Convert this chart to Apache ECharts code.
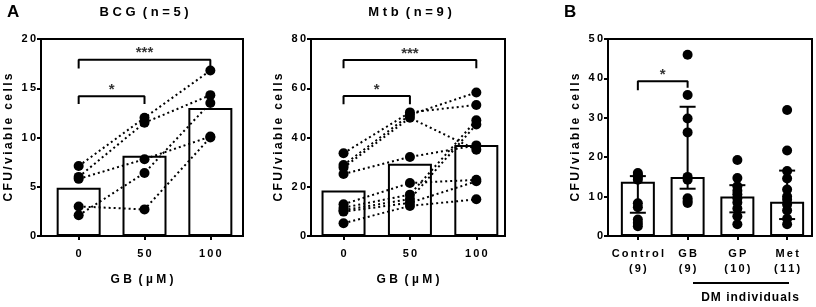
<!DOCTYPE html>
<html>
<head>
<meta charset="utf-8">
<script src="https://cdn.jsdelivr.net/npm/echarts@6/dist/echarts.min.js"></script>
<style>
  html, body { margin: 0; padding: 0; background: #fff; }
  #chart { width: 816px; height: 307px; }
</style>
</head>
<body>
<div id="chart"></div>
<script>
// dose groups for panel A
var doses = [0, 50, 100];

// BCG (n=5)
var bcgMeans = [4.9, 8.15, 13.0];
var bcgSubjects = [
  [7.1, 12.0, 16.8],
  [6.0, 11.5, 14.3],
  [5.8, 7.8, 10.1],
  [2.1, 6.4, 13.5],
  [3.0, 2.7, 10.0]
];

// Mtb (n=9)
var mtbMeans = [18.5, 29.3, 37.0];
var mtbSubjects = [
  [33.6, 50.2, 53.2],
  [28.8, 49.2, 58.3],
  [27.8, 48.0, 35.0],
  [25.2, 32.1, 36.8],
  [12.9, 21.5, 22.8],
  [11.5, 16.8, 47.0],
  [10.5, 15.0, 45.3],
  [9.9, 13.5, 22.2],
  [5.2, 12.2, 14.9]
];

// panel B groups
var groupNames = ['Control', 'GB', 'GP', 'Met'];
var groupN = [9, 9, 10, 11];
var groupMedians = [13.8, 15.0, 10.0, 8.7];
var groupLow = [5.9, 12.0, 6.0, 4.3];
var groupHigh = [15.2, 32.8, 12.9, 16.6];
var groupPoints = [
  [16.0, 15.5, 15.0, 14.3, 8.3, 7.3, 4.2, 3.3, 2.5],
  [46.0, 35.8, 29.8, 26.3, 15.0, 14.3, 9.6, 8.9, 8.4],
  [19.3, 14.7, 12.6, 11.5, 10.6, 9.6, 8.5, 7.0, 5.0, 3.0],
  [32.0, 21.7, 16.5, 14.6, 11.8, 10.0, 9.2, 8.0, 6.5, 4.4, 3.0]
];

var FONT = 'Liberation Sans, Arial, sans-serif';
function sp(s) { return String(s).split('').join('\u2009'); }
function hair(s) { return String(s).split('').join('\u200a'); }

var chart = echarts.init(document.getElementById('chart'));

function yAxisCfg(grid, max, interval) {
  return {
    type: 'value', gridIndex: grid, min: 0, max: max, interval: interval,
    name: sp('CFU/viable cells'), nameLocation: 'middle', nameGap: 26,
    nameTextStyle: { color: '#000', fontWeight: 'bold', fontSize: 12, fontFamily: FONT },
    axisLine: { show: true, onZero: false, lineStyle: { color: '#000', width: 2 } },
    axisTick: { show: true, length: 4, lineStyle: { color: '#000', width: 2 } },
    axisLabel: { color: '#000', fontWeight: 'bold', fontSize: 11, fontFamily: FONT, margin: 5,
      formatter: function (v) { return sp(v); } },
    splitLine: { show: false }
  };
}

function doseAxisCfg(grid, min, max) {
  return {
    type: 'value', gridIndex: grid, min: min, max: max,
    name: 'G B  ( \u00b5 M )', nameLocation: 'middle', nameGap: 38,
    nameTextStyle: { color: '#000', fontWeight: 'bold', fontSize: 12, fontFamily: FONT },
    axisLine: { show: true, onZero: false, lineStyle: { color: '#000', width: 2 } },
    axisTick: { show: true, length: 4, customValues: doses, lineStyle: { color: '#000', width: 2 } },
    axisLabel: { color: '#000', fontWeight: 'bold', fontSize: 11, fontFamily: FONT, margin: 12,
      customValues: doses, formatter: function (v) { return sp(v); } },
    splitLine: { show: false }
  };
}

function panelASeries(axis, means, subjects, brackets) {
  var out = [];
  out.push({
    type: 'bar', xAxisIndex: axis, yAxisIndex: axis, barWidth: 44, z: 1,
    data: doses.map(function (d, i) { return [d, means[i]]; }),
    itemStyle: { color: '#fff', borderColor: '#000', borderWidth: 2 },
    silent: true
  });
  subjects.forEach(function (s) {
    out.push({
      type: 'line', xAxisIndex: axis, yAxisIndex: axis, symbol: 'none', z: 2,
      data: doses.map(function (d, i) { return [d, s[i]]; }),
      lineStyle: { color: '#000', width: 2, type: [2, 3] }
    });
  });
  var pts = [];
  subjects.forEach(function (s) { doses.forEach(function (d, i) { pts.push([d, s[i]]); }); });
  out.push({
    type: 'scatter', xAxisIndex: axis, yAxisIndex: axis, symbolSize: 10, z: 3,
    data: pts, itemStyle: { color: '#000', opacity: 1 }
  });
  brackets.forEach(function (b) {
    out.push({
      type: 'line', xAxisIndex: axis, yAxisIndex: axis, symbol: 'none', z: 4,
      data: [[b.x0, b.leg], [b.x0, b.top], [b.x1, b.top], [b.x1, b.leg]],
      lineStyle: { color: '#000', width: 2 }
    });
    out.push({
      type: 'scatter', xAxisIndex: axis, yAxisIndex: axis, symbolSize: 0, z: 4,
      data: [[(b.x0 + b.x1) / 2, b.top]],
      label: { show: true, position: 'top', distance: -1, formatter: b.text, color: '#000',
        fontSize: 15, fontWeight: 'bold', fontFamily: FONT }
    });
  });
  return out;
}

var series = [];
series = series.concat(panelASeries(0, bcgMeans, bcgSubjects, [
  { x0: 0, x1: 100, top: 17.9, leg: 17.0, text: '***' },
  { x0: 0, x1: 50, top: 14.2, leg: 13.4, text: '*' }
]));
series = series.concat(panelASeries(1, mtbMeans, mtbSubjects, [
  { x0: 0, x1: 100, top: 71.5, leg: 68.1, text: '***' },
  { x0: 0, x1: 50, top: 56.9, leg: 53.5, text: '*' }
]));

// panel B
series.push({
  type: 'bar', xAxisIndex: 2, yAxisIndex: 2, barWidth: 34, z: 1,
  data: groupMedians.map(function (v, i) { return [i, v]; }),
  itemStyle: { color: '#fff', borderColor: '#000', borderWidth: 2 },
  silent: true
});
var bPts = [];
groupPoints.forEach(function (g, i) { g.forEach(function (v) { bPts.push([i, v]); }); });
series.push({
  type: 'scatter', xAxisIndex: 2, yAxisIndex: 2, symbolSize: 10, z: 3,
  data: bPts, itemStyle: { color: '#000', opacity: 1 }
});
series.push({
  type: 'custom', xAxisIndex: 2, yAxisIndex: 2, z: 4,
  data: groupLow.map(function (v, i) { return [i, v, groupHigh[i]]; }),
  renderItem: function (params, api) {
    var lo = api.coord([api.value(0), api.value(1)]);
    var hi = api.coord([api.value(0), api.value(2)]);
    var w = 8;
    var st = { stroke: '#000', lineWidth: 2 };
    return { type: 'group', children: [
      { type: 'line', shape: { x1: lo[0], y1: lo[1], x2: hi[0], y2: hi[1] }, style: st },
      { type: 'line', shape: { x1: lo[0] - w, y1: lo[1], x2: lo[0] + w, y2: lo[1] }, style: st },
      { type: 'line', shape: { x1: hi[0] - w, y1: hi[1], x2: hi[0] + w, y2: hi[1] }, style: st }
    ] };
  }
});
series.push({
  type: 'line', xAxisIndex: 2, yAxisIndex: 2, symbol: 'none', z: 4,
  data: [[0, 37.0], [0, 39.3], [1, 39.3], [1, 37.6]],
  lineStyle: { color: '#000', width: 2 }
});
series.push({
  type: 'scatter', xAxisIndex: 2, yAxisIndex: 2, symbolSize: 0, z: 4,
  data: [[0.5, 39.3]],
  label: { show: true, position: 'top', distance: -1, formatter: '*', color: '#000',
    fontSize: 15, fontWeight: 'bold', fontFamily: FONT }
});

var titleStyle = { fill: '#000', fontWeight: 'bold', fontSize: 13, fontFamily: FONT, textAlign: 'center', textVerticalAlign: 'middle' };

chart.setOption({
  animation: false,
  backgroundColor: '#fff',
  grid: [
    { left: 41, top: 39, width: 202, height: 197, show: true, borderColor: '#000', borderWidth: 2 },
    { left: 311, top: 39, width: 194, height: 197, show: true, borderColor: '#000', borderWidth: 2 },
    { left: 608, top: 39, width: 204, height: 197, show: true, borderColor: '#000', borderWidth: 2 }
  ],
  xAxis: [
    doseAxisCfg(0, -28.6, 124.8),
    doseAxisCfg(1, -24.5, 121.6),
    {
      type: 'value', gridIndex: 2, min: -0.6, max: 3.5,
      axisLine: { show: true, onZero: false, lineStyle: { color: '#000', width: 2 } },
      axisTick: { show: true, length: 4, customValues: [0, 1, 2, 3], lineStyle: { color: '#000', width: 2 } },
      axisLabel: { color: '#000', fontWeight: 'bold', fontSize: 11, fontFamily: FONT, margin: 10, lineHeight: 15,
        customValues: [0, 1, 2, 3],
        formatter: function (v) { return sp(groupNames[v]) + '\n' + sp('(' + groupN[v] + ')'); } },
      splitLine: { show: false }
    }
  ],
  yAxis: [yAxisCfg(0, 20, 5), yAxisCfg(1, 80, 20), yAxisCfg(2, 50, 10)],
  series: series,
  graphic: [
    { type: 'text', left: 7, top: 4, style: { text: 'A', fill: '#000', fontWeight: 'bold', fontSize: 17, fontFamily: FONT } },
    { type: 'text', left: 564, top: 4, style: { text: 'B', fill: '#000', fontWeight: 'bold', fontSize: 17, fontFamily: FONT } },
    { type: 'text', x: 144, y: 12, style: Object.assign({ text: 'B C G  ( n = 5 )' }, titleStyle) },
    { type: 'text', x: 410, y: 12, style: Object.assign({ text: 'M t b  ( n = 9 )' }, titleStyle) },
    { type: 'line', shape: { x1: 693, y1: 283, x2: 789, y2: 283 }, style: { stroke: '#000', lineWidth: 2 } },
    { type: 'text', x: 750, y: 298, style: Object.assign({ text: hair('DM individuals') }, titleStyle, { fontSize: 12 }) }
  ]
});
</script>
</body>
</html>
